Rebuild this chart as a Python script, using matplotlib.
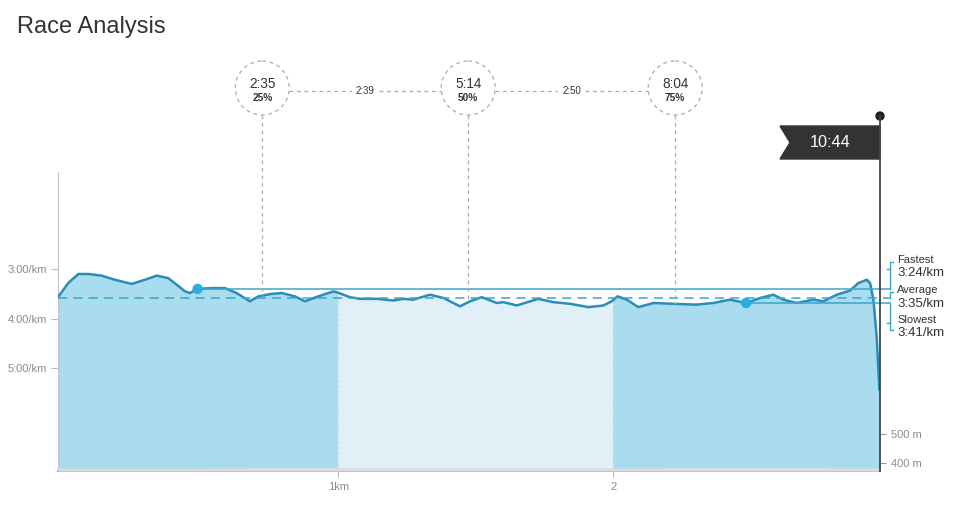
import numpy as np
import matplotlib
matplotlib.use("Agg")
import matplotlib.pyplot as plt
from matplotlib.patches import Circle, Polygon

plt.rcParams['font.family'] = ['Liberation Sans', 'DejaVu Sans']

# pace along the course (km, seconds per km)
dist_km = [0.000, 0.037, 0.074, 0.110, 0.159, 0.207, 0.268, 0.316, 0.359, 0.401,
           0.432, 0.462, 0.480, 0.508, 0.559, 0.607, 0.650, 0.698, 0.729, 0.777,
           0.814, 0.862, 0.898, 0.947, 1.001, 1.014, 1.062, 1.099, 1.159, 1.220,
           1.256, 1.292, 1.353, 1.402, 1.462, 1.499, 1.541, 1.596, 1.620, 1.669,
           1.747, 1.802, 1.863, 1.929, 1.984, 2.014, 2.035, 2.069, 2.111, 2.166,
           2.238, 2.323, 2.384, 2.444, 2.503, 2.554, 2.602, 2.638, 2.687, 2.748,
           2.784, 2.833, 2.881, 2.911, 2.942, 2.954, 2.966, 2.978, 2.988]
pace_s = [214, 197, 186, 186, 188, 193, 198, 193, 188, 191,
          199, 207, 209, 204, 203, 203, 209, 219, 213, 210,
          209, 213, 219, 213, 207, 208, 214, 216, 216, 218,
          216, 217, 211, 215, 225, 219, 214, 221, 220, 224,
          216, 220, 222, 226, 224, 219, 213, 217, 226, 221,
          222, 223, 221, 217, 221, 215, 211, 217, 221, 217,
          219, 211, 206, 197, 193, 197, 217, 262, 326]

# elevation profile
elev_dist = [0.0, 0.5, 1.0, 1.5, 2.0, 2.5, 2.99]
elev_m = [384, 384, 385, 384, 384, 385, 384]

split_km = [1.02, 2.02]
split_labels = ["1km", "2"]

quarter_km = [0.743, 1.492, 2.245]
quarter_time = ["2:35", "5:14", "8:04"]
quarter_pct = ["25%", "50%", "75%"]
leg_time = ["2:39", "2:50"]

fastest_s, average_s, slowest_s = 204, 215, 221
fastest_km, slowest_km = 0.508, 2.503
stat_names = ["Fastest", "Average", "Slowest"]
stat_labels = ["3:24/km", "3:35/km", "3:41/km"]
total_time = "10:44"

pace_ticks = [180, 240, 300]
pace_tick_labels = ["3:00/km", "4:00/km", "5:00/km"]
elev_ticks = [400, 500]
elev_tick_labels = ["400 m", "500 m"]

dark_fill = "#a8dcee"
light_fill = "#e1f0f7"
line_col = "#2a8db8"
ref_col = "#3aa6c9"
dot_col = "#29aee3"
grey_txt = "#8c8c8c"

fig = plt.figure(figsize=(9.55, 5.08), dpi=100)
W, H = 955, 508
ax = fig.add_axes([58 / W, (H - 471) / H, 822 / W, 299 / H])
ax.set_xlim(0, 2.99)
ax.set_ylim(423.8, 62.9)

# pace area
poly = ax.fill_between(dist_km, pace_s, 423.8, color=dark_fill, lw=0, zorder=1)
span = ax.axvspan(split_km[0], split_km[1], color=light_fill, lw=0, zorder=1.5)
span.set_clip_path(poly.get_paths()[0], transform=ax.transData)
for s in split_km:
    ax.vlines(s, 423.8, np.interp(s, dist_km, pace_s), color="#c9dfe8", lw=1,
              linestyles=(0, (2, 2)), zorder=1.6)
ax.plot(dist_km, pace_s, color=line_col, lw=1.8, zorder=3,
        solid_capstyle='round', solid_joinstyle='round')

ax.set_yticks(pace_ticks)
ax.set_yticklabels(pace_tick_labels)
ax.set_xticks(split_km)
ax.set_xticklabels(split_labels)
ax.tick_params(axis='y', colors="#bbbbbb", labelcolor=grey_txt, labelsize=8, length=5, pad=3)
ax.tick_params(axis='x', colors="#bbbbbb", labelcolor=grey_txt, labelsize=8, length=4, pad=4)
for side in ['top', 'right']:
    ax.spines[side].set_visible(False)
ax.spines['left'].set_color("#c4c4c4")
ax.spines['bottom'].set_color("#aaaaaa")
ax.spines['bottom'].set_linewidth(1.5)

# elevation on the right axis
ax2 = ax.twinx()
ax2.set_ylim(373.4, 1404.4)
ax2.fill_between(elev_dist, elev_m, 373.4, color="#dcdcdc", lw=0)
ax2.set_yticks(elev_ticks)
ax2.set_yticklabels(elev_tick_labels)
ax2.tick_params(axis='y', colors="#999999", labelcolor=grey_txt, labelsize=8, length=4, pad=4)
for side in ['top', 'left', 'bottom', 'right']:
    ax2.spines[side].set_visible(False)

# overlay in pixel units for the annotations
ov = fig.add_axes([0, 0, 1, 1])
ov.set_xlim(0, W)
ov.set_ylim(H, 0)
ov.axis('off')
ov.patch.set_alpha(0)
ov.set_zorder(10)


def px(x, y):
    return ov.transData.inverted().transform(ax.transData.transform((x, y)))


x_left = px(0, 0)[0]
x_right = px(2.99, 0)[0]
x_brk = x_right + 10

# reference lines
fy = px(0, fastest_s)[1]
ay = px(0, average_s)[1]
sy = px(0, slowest_s)[1]
ov.plot([px(fastest_km, 0)[0], x_brk], [fy, fy], color=ref_col, lw=1.1)
ov.plot([x_left, x_brk], [ay, ay], color=ref_col, lw=1.1, dashes=(6, 4))
ov.plot([px(slowest_km, 0)[0], x_brk], [sy, sy], color=ref_col, lw=1.1)
ov.add_patch(Circle(px(fastest_km, fastest_s), 4.5, color=dot_col, zorder=5))
ov.add_patch(Circle(px(slowest_km, slowest_s), 4.5, color=dot_col, zorder=5))

# brackets and stats labels
ov.plot([x_brk + 3, x_brk, x_brk], [fy - 27, fy - 27, fy], color=ref_col, lw=1)
ov.plot([x_brk - 3, x_brk], [fy - 20, fy - 20], color=ref_col, lw=1)
ov.plot([x_brk + 3, x_brk, x_brk], [ay - 6, ay - 6, ay], color=ref_col, lw=1)
ov.plot([x_brk, x_brk, x_brk + 3], [sy, sy + 27, sy + 27], color=ref_col, lw=1)
ov.plot([x_brk - 3, x_brk], [sy + 20, sy + 20], color=ref_col, lw=1)
name_y = [fy - 29, ay - 8, sy + 17]
for i in range(3):
    ov.text(x_brk + 7, name_y[i], stat_names[i], fontsize=8, color="#333333", va='center')
    ov.text(x_brk + 7, name_y[i] + 13.5, stat_labels[i], fontsize=9.5, color="#333333", va='center')

# quarter markers
cy = 88
r = 27
cx = [px(q, 0)[0] for q in quarter_km]
for i in range(len(cx)):
    ov.add_patch(Circle((cx[i], cy), r, fill=False, ec="#aaaaaa", lw=0.9, ls=(0, (3, 3))))
    ov.text(cx[i], cy - 4, quarter_time[i], fontsize=9.8, color="#333333", ha='center', va='center')
    ov.text(cx[i], cy + 10, quarter_pct[i], fontsize=7.3, color="#333333", ha='center',
            va='center', fontweight='bold')
    y_curve = px(quarter_km[i], np.interp(quarter_km[i], dist_km, pace_s))[1]
    ov.plot([cx[i], cx[i]], [cy + r, y_curve], color="#aaaaaa", lw=0.9, dashes=(3, 3))
for i in range(len(leg_time)):
    ov.plot([cx[i] + r, cx[i + 1] - r], [cy + 3, cy + 3], color="#aaaaaa", lw=0.9, dashes=(3, 3))
    ov.text((cx[i] + cx[i + 1]) / 2, cy + 3, leg_time[i], fontsize=7, color="#333333",
            ha='center', va='center', bbox=dict(fc='white', ec='none', pad=3))

# finish flag
ov.plot([x_right, x_right], [116, 471], color="#444444", lw=1.3)
ov.add_patch(Circle((x_right, 116), 4, color="#222222"))
ov.add_patch(Polygon([(x_right - 100, 126), (x_right, 126), (x_right, 159),
                      (x_right - 100, 159), (x_right - 90, 142.5)], color="#333333"))
ov.text(x_right - 50, 142.5, total_time, fontsize=11.7, color="white", ha='center', va='center')

ov.text(17, 27, "Race Analysis", fontsize=17, color="#333333", va='center')

fig.savefig("out.png", dpi=100)
